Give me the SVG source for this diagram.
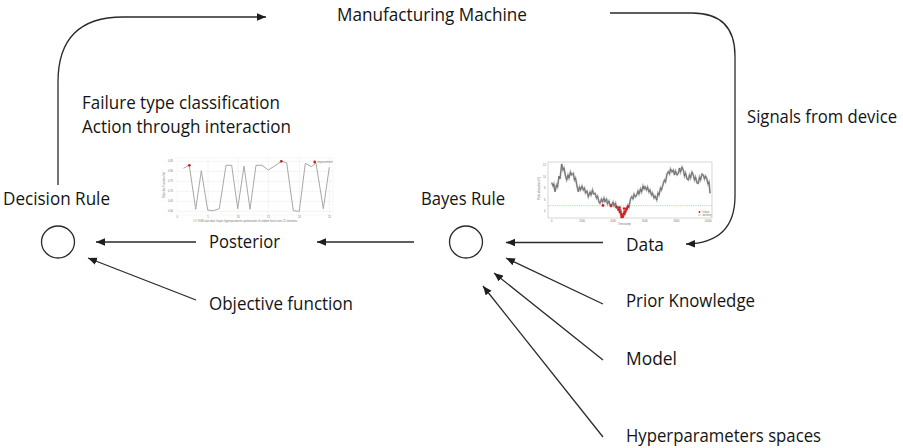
<svg xmlns="http://www.w3.org/2000/svg" width="903" height="448" viewBox="0 0 903 448">
<style>
.t{font-family:"Open Sans","Noto Sans","Liberation Sans",sans-serif;font-size:17.5px;fill:#141414}
.c{fill:none;stroke:#2a2a2a;stroke-width:1.3}
.e{fill:none;stroke:#2a2a2a;stroke-width:1.3}
.g{stroke:#e6e6e6;stroke-width:0.5;fill:none}
.tk{font-family:"Liberation Sans",sans-serif;font-size:2.6px;fill:#777}
.red{fill:#d42020}
</style>
<defs>
<marker id="ah" markerUnits="userSpaceOnUse" markerWidth="10" markerHeight="8" refX="9" refY="3.75" orient="auto">
<path d="M0,0 L9,3.75 L0,7.5 z" fill="#1e1e1e"/>
</marker>
</defs>
<rect width="903" height="448" fill="#fff"/>

<g id="connectors">
<path class="e" d="M58,185 V82 Q58,17 123,17 H266" marker-end="url(#ah)"/>
<path class="e" d="M610,13 H692 Q735,13 735,56 V196 Q735,243 686,244" marker-end="url(#ah)"/>
<line class="e" x1="196" y1="242" x2="96" y2="242" marker-end="url(#ah)"/>
<line class="e" x1="196" y1="300" x2="88" y2="258" marker-end="url(#ah)"/>
<line class="e" x1="414" y1="242" x2="317" y2="242" marker-end="url(#ah)"/>
<line class="e" x1="603" y1="242.5" x2="506" y2="242.5" marker-end="url(#ah)"/>
<line class="e" x1="603" y1="304" x2="506" y2="258" marker-end="url(#ah)"/>
<line class="e" x1="603" y1="360" x2="494" y2="273" marker-end="url(#ah)"/>
<line class="e" x1="603" y1="437" x2="483" y2="286" marker-end="url(#ah)"/>
</g>

<g id="manufacturing-machine">
<text class="t" x="337" y="21" textLength="190" lengthAdjust="spacingAndGlyphs">Manufacturing Machine</text>
</g>
<g id="actions">
<text class="t" x="82" y="109" textLength="198" lengthAdjust="spacingAndGlyphs">Failure type classification</text>
<text class="t" x="82" y="133" textLength="209" lengthAdjust="spacingAndGlyphs">Action through interaction</text>
</g>
<g id="signals">
<text class="t" x="747" y="123" textLength="150" lengthAdjust="spacingAndGlyphs">Signals from device</text>
</g>
<g id="decision-rule">
<text class="t" x="3" y="205" textLength="107" lengthAdjust="spacingAndGlyphs">Decision Rule</text>
<ellipse class="c" cx="58" cy="242" rx="16.5" ry="16"/>
</g>
<g id="bayes-rule">
<text class="t" x="421" y="205" textLength="84" lengthAdjust="spacingAndGlyphs">Bayes Rule</text>
<ellipse class="c" cx="466" cy="242" rx="16.5" ry="16"/>
</g>
<g id="posterior">
<text class="t" x="209" y="248" textLength="71" lengthAdjust="spacingAndGlyphs">Posterior</text>
</g>
<g id="objective">
<text class="t" x="209" y="310" textLength="144" lengthAdjust="spacingAndGlyphs">Objective function</text>
</g>
<g id="data">
<text class="t" x="626" y="251" textLength="38" lengthAdjust="spacingAndGlyphs">Data</text>
</g>
<g id="prior">
<text class="t" x="626" y="307" textLength="129" lengthAdjust="spacingAndGlyphs">Prior Knowledge</text>
</g>
<g id="model">
<text class="t" x="626" y="365" textLength="51" lengthAdjust="spacingAndGlyphs">Model</text>
</g>
<g id="hyperparameters">
<text class="t" x="626" y="442" textLength="195" lengthAdjust="spacingAndGlyphs">Hyperparameters spaces</text>
</g>

<g id="posterior-chart">
<rect x="177" y="158" width="156" height="57" fill="#fff" stroke="#eee" stroke-width="0.5"/>
<path class="g" d="M177,161.3H333M177,171.3H333M177,181.3H333M177,191.3H333M177,201.3H333M177,211.3H333M208,158V215M238,158V215M268.3,158V215M299.3,158V215M329.3,158V215"/>
<polyline fill="none" stroke="#a8a8a8" stroke-width="1" points="183.3,168.3 189.3,165.3 195.7,209.3 201.3,170.7 207.7,210 213.3,210.7 219.3,208.7 226,165.3 231.7,165.3 237.7,208.7 244,166 250,209.3 256,165.3 262,165.3 268.3,170 274.7,166 281.3,161.3 286.7,162.7 293.3,210.7 299.3,211.3 305.3,163.3 311.3,166.7 316,163 323.3,208.7 329.3,167.3"/>
<circle class="red" cx="189.3" cy="165.3" r="1.4"/>
<circle class="red" cx="281.3" cy="161.3" r="1.4"/>
<circle class="red" cx="314.7" cy="162" r="1.4"/>
<text class="tk" x="317.5" y="163">improvement</text>
<text class="tk" x="168" y="162">0.85</text>
<text class="tk" x="168" y="172">0.80</text>
<text class="tk" x="168" y="182">0.75</text>
<text class="tk" x="168" y="192">0.70</text>
<text class="tk" x="168" y="202">0.65</text>
<text class="tk" x="168" y="212">0.60</text>
<text class="tk" x="176.5" y="218">0</text>
<text class="tk" x="207.3" y="218">5</text>
<text class="tk" x="236.8" y="218">10</text>
<text class="tk" x="267.1" y="218">15</text>
<text class="tk" x="298.1" y="218">20</text>
<text class="tk" x="328.1" y="218">25</text>
<text class="tk" x="165" y="198" transform="rotate(-90 165 198)">Objective Function Val</text>
<text class="tk" x="193" y="221.5">### XGB train data: bayes hyperparameter optimization of random forest over 25 iterations</text>
</g>

<g id="data-chart">
<rect x="548" y="162" width="164" height="56" fill="#fff" stroke="#bbb" stroke-width="0.6"/>
<line x1="548" y1="205.7" x2="712" y2="205.7" stroke="#7cbf7c" stroke-width="0.6" stroke-dasharray="1.2,1"/>
<polyline fill="none" stroke="#aaa" stroke-width="1.8" points="551.7,182.7 553,186 553.8,184 555,191.7 556.5,185 557.5,187 559,176 560,179 561.7,164 563,170 564,168 565.5,176 566.7,180 568,175 569,178 570.5,172 571.5,175 573.3,173.3 574.5,180 575.5,178 577,186 578.3,191.7 579.5,187 580.5,190 582,186 583.3,190 584.5,188 585.5,193 587,191 588.3,196.7 590,192 591,195 592.5,190 593.5,194 595,193.3 596.5,198 597.5,196 599,202 600,203.3 601.5,199 602.5,202 604,198 605,201.7 606.5,199 607.5,204 609,201 610,205 611.7,205 613,202 614,206 615.5,203 616.5,208 618.3,207.3 619.5,211 620.5,209 621.5,214 622.7,216.7 623.8,212 624.8,214 625.8,209 626.7,210 628,205 629,207 630.5,199 631.7,196.7 633,199 634,194 635.5,197 636.7,195 638,191 639,194 640.5,189 641.5,192 643,186 644,189 645,186.7 646.5,190 647.5,187 649,192 650,190 651.5,195 652.5,193 654,198 655,196 656.7,200 658,193 659,195 660.5,188 661.5,190 663.3,183.3 664.5,180 665.5,182 667,174 668.3,171.7 669.5,174 670.5,169 672,172 673.3,170 674.5,175 675.5,171 677,175 678.3,173.3 679.5,168 680.5,172 682,167 683.3,170 684.5,176 685.5,173 687,179 688.3,180 689.5,175 690.5,178 692,172 693.3,175 694.5,180 695.5,177 697,183 698.3,183.3 699.5,177 700.5,180 702,174 703.3,175 704.5,179 705.5,176 706.7,178.3 708,184 709,182 710,193.3"/>
<polyline fill="none" stroke="#555" stroke-width="0.6" points="551.7,182.7 553,186 553.8,184 555,191.7 556.5,185 557.5,187 559,176 560,179 561.7,164 563,170 564,168 565.5,176 566.7,180 568,175 569,178 570.5,172 571.5,175 573.3,173.3 574.5,180 575.5,178 577,186 578.3,191.7 579.5,187 580.5,190 582,186 583.3,190 584.5,188 585.5,193 587,191 588.3,196.7 590,192 591,195 592.5,190 593.5,194 595,193.3 596.5,198 597.5,196 599,202 600,203.3 601.5,199 602.5,202 604,198 605,201.7 606.5,199 607.5,204 609,201 610,205 611.7,205 613,202 614,206 615.5,203 616.5,208 618.3,207.3 619.5,211 620.5,209 621.5,214 622.7,216.7 623.8,212 624.8,214 625.8,209 626.7,210 628,205 629,207 630.5,199 631.7,196.7 633,199 634,194 635.5,197 636.7,195 638,191 639,194 640.5,189 641.5,192 643,186 644,189 645,186.7 646.5,190 647.5,187 649,192 650,190 651.5,195 652.5,193 654,198 655,196 656.7,200 658,193 659,195 660.5,188 661.5,190 663.3,183.3 664.5,180 665.5,182 667,174 668.3,171.7 669.5,174 670.5,169 672,172 673.3,170 674.5,175 675.5,171 677,175 678.3,173.3 679.5,168 680.5,172 682,167 683.3,170 684.5,176 685.5,173 687,179 688.3,180 689.5,175 690.5,178 692,172 693.3,175 694.5,180 695.5,177 697,183 698.3,183.3 699.5,177 700.5,180 702,174 703.3,175 704.5,179 705.5,176 706.7,178.3 708,184 709,182 710,193.3"/>
<g class="red">
<circle cx="603" cy="205.5" r="1.4"/><circle cx="611" cy="206" r="1.4"/><circle cx="616.5" cy="207" r="1.4"/>
<circle cx="618.5" cy="209.5" r="1.5"/><circle cx="620" cy="212" r="1.5"/><circle cx="621.3" cy="214.5" r="1.5"/>
<circle cx="622.7" cy="216.5" r="1.5"/><circle cx="624" cy="214" r="1.5"/><circle cx="625.2" cy="211.5" r="1.5"/>
<circle cx="626.5" cy="209" r="1.5"/><circle cx="627.8" cy="207" r="1.4"/><circle cx="621.5" cy="217" r="1.3"/>
<circle cx="619.5" cy="207.5" r="1.3"/><circle cx="624" cy="208.5" r="1.3"/>
</g>
<circle class="red" cx="699.5" cy="212" r="1"/>
<line x1="698" y1="215" x2="701" y2="215" stroke="#888" stroke-width="0.5"/>
<text class="tk" x="702.5" y="213">failure</text>
<text class="tk" x="702.5" y="216">working</text>
<text class="tk" x="543" y="166">12</text>
<text class="tk" x="543" y="177.5">10</text>
<text class="tk" x="544" y="189">8</text>
<text class="tk" x="544" y="200.5">6</text>
<text class="tk" x="544" y="212">4</text>
<text class="tk" x="550.9" y="221.5">0</text>
<text class="tk" x="579.3" y="221.5">2000</text>
<text class="tk" x="610.3" y="221.5">4000</text>
<text class="tk" x="642" y="221.5">6000</text>
<text class="tk" x="673.7" y="221.5">8000</text>
<text class="tk" x="704.5" y="221.5">10000</text>
<text class="tk" x="618" y="225">Timestamp</text>
<text class="tk" x="540" y="200" transform="rotate(-90 540 200)">Peak absorption (V)</text>
</g>
</svg>
